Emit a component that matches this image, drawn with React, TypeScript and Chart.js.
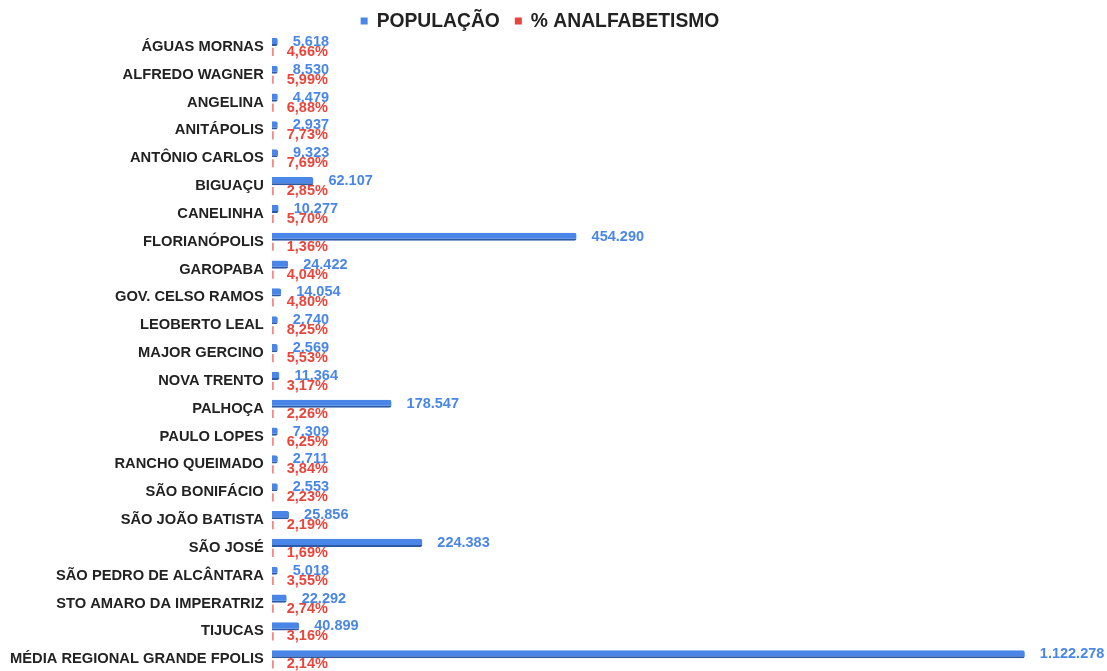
import React, { useEffect, useRef } from "react";
import { Chart, registerables } from "chart.js";

Chart.register(...registerables);

const categories = [
  "ÁGUAS MORNAS",
  "ALFREDO WAGNER",
  "ANGELINA",
  "ANITÁPOLIS",
  "ANTÔNIO CARLOS",
  "BIGUAÇU",
  "CANELINHA",
  "FLORIANÓPOLIS",
  "GAROPABA",
  "GOV. CELSO RAMOS",
  "LEOBERTO LEAL",
  "MAJOR GERCINO",
  "NOVA TRENTO",
  "PALHOÇA",
  "PAULO LOPES",
  "RANCHO QUEIMADO",
  "SÃO BONIFÁCIO",
  "SÃO JOÃO BATISTA",
  "SÃO JOSÉ",
  "SÃO PEDRO DE ALCÂNTARA",
  "STO AMARO DA IMPERATRIZ",
  "TIJUCAS",
  "MÉDIA REGIONAL GRANDE FPOLIS",
];

const populacao = [
  5618, 8530, 4479, 2937, 9323, 62107, 10277, 454290, 24422, 14054, 2740,
  2569, 11364, 178547, 7309, 2711, 2553, 25856, 224383, 5018, 22292, 40899,
  1122278,
];

const analfabetismo = [
  4.66, 5.99, 6.88, 7.73, 7.69, 2.85, 5.7, 1.36, 4.04, 4.8, 8.25, 5.53, 3.17,
  2.26, 6.25, 3.84, 2.23, 2.19, 1.69, 3.55, 2.74, 3.16, 2.14,
];

const seriesNames = ["POPULAÇÃO", "% ANALFABETISMO"];

const BLUE = "#4a86e8";
const BLUE_DARK = "#2d5aa6";
const RED = "#e8453c";
const FONT = "'Liberation Sans', Arial, sans-serif";

function fmtPop(v: number): string {
  return String(Math.round(v)).replace(/\B(?=(\d{3})+(?!\d))/g, ".");
}
function fmtPct(v: number): string {
  return v.toFixed(2).replace(".", ",") + "%";
}

const labelPlugin = {
  id: "valueLabels",
  afterDatasetsDraw(chart: any) {
    const ctx = chart.ctx;
    ctx.save();
    ctx.font = `bold 14.5px ${FONT}`;
    ctx.textBaseline = "middle";
    ctx.textAlign = "left";
    const m0 = chart.getDatasetMeta(0);
    m0.data.forEach((bar: any, i: number) => {
      ctx.fillStyle = BLUE;
      ctx.fillText(fmtPop(populacao[i]), bar.x + 15, bar.y);
    });
    const m1 = chart.getDatasetMeta(1);
    m1.data.forEach((bar: any, i: number) => {
      ctx.fillStyle = RED;
      ctx.fillText(fmtPct(analfabetismo[i]), bar.x + 13, bar.y);
    });
    ctx.restore();
  },
};

const legendPlugin = {
  id: "customLegend",
  afterDraw(chart: any) {
    const ctx = chart.ctx;
    const colors = [BLUE, RED];
    ctx.save();
    ctx.font = `bold 19.3px ${FONT}`;
    ctx.textBaseline = "middle";
    ctx.textAlign = "left";
    const box = 7;
    const gap = 9;
    const itemGap = 15;
    const widths = seriesNames.map((s) => ctx.measureText(s).width);
    const total =
      widths.reduce((a, w) => a + box + gap + w, 0) + itemGap * (seriesNames.length - 1);
    let x = 540 - total / 2;
    const y = 21;
    seriesNames.forEach((s, i) => {
      ctx.fillStyle = colors[i];
      ctx.fillRect(x, y - box / 2, box, box);
      x += box + gap;
      ctx.fillStyle = "#222";
      ctx.fillText(s, x, y + 1);
      x += widths[i] + itemGap;
    });
    ctx.restore();
  },
};

export default function App() {
  const ref = useRef<HTMLCanvasElement>(null);
  useEffect(() => {
    if (!ref.current) return;
    const chart = new Chart(ref.current, {
      type: "bar",
      data: {
        labels: categories,
        datasets: [
          {
            label: seriesNames[0],
            data: populacao,
            backgroundColor: BLUE,
            borderColor: BLUE_DARK,
            borderWidth: { top: 0, right: 0, bottom: 2, left: 0 },
            borderSkipped: false,
            borderRadius: { topRight: 2, bottomRight: 2, topLeft: 0, bottomLeft: 0 },
            minBarLength: 6,
            categoryPercentage: 0.72,
            barPercentage: 0.82,
          },
          {
            label: seriesNames[1],
            data: analfabetismo,
            backgroundColor: "#f08a84",
            minBarLength: 2,
            categoryPercentage: 0.72,
            barPercentage: 0.82,
          },
        ],
      },
      options: {
        indexAxis: "y",
        animation: false,
        responsive: true,
        maintainAspectRatio: false,
        layout: { padding: { left: 2, right: 28, top: 33, bottom: 13 } },
        plugins: {
          legend: { display: false },
          tooltip: { enabled: false },
        },
        scales: {
          x: {
            display: false,
            min: 0,
            max: 1203000,
          },
          y: {
            grid: { display: false, drawTicks: false },
            border: { display: false },
            ticks: {
              padding: 8,
              color: "#222",
              autoSkip: false,
              font: { family: FONT, size: 14.7, weight: "bold" },
            },
          },
        },
      },
      plugins: [labelPlugin, legendPlugin],
    });
    return () => chart.destroy();
  }, []);
  return (
    <div style={{ position: "fixed", left: 0, top: 0, width: 1107, height: 690 }}>
      <canvas ref={ref} />
    </div>
  );
}
